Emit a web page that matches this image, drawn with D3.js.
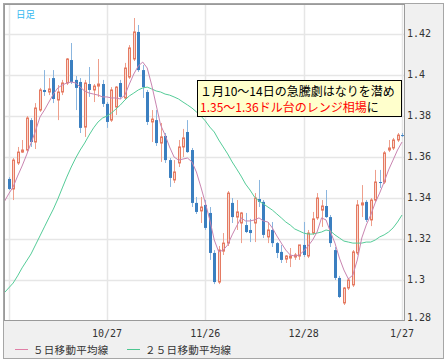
<!DOCTYPE html>
<meta charset="utf-8">
<style>
    * {
        margin: 0px;
    }
    body {
        background: #fff;
    }
    .axis text {
        font-family: "DejaVu Sans Mono", monospace;
        font-size: 10px;
        fill: #333;
    }
    .jp {
        font-family: "Noto Sans CJK JP", sans-serif;
    }
</style>
<svg width="447" height="363"></svg>
<script src="https://d3js.org/d3.v7.min.js"></script>
<script>
    // 日足 (9/24 は移動平均のみ)
    var dates = ["9/24",
        "9/27","9/28","9/29","9/30","10/1",
        "10/4","10/5","10/6","10/7","10/8",
        "10/11","10/12","10/13","10/14","10/15",
        "10/18","10/19","10/20","10/21","10/22",
        "10/25","10/26","10/27","10/28","10/29",
        "11/1","11/2","11/3","11/4","11/5",
        "11/8","11/9","11/10","11/11","11/12",
        "11/15","11/16","11/17","11/18","11/19",
        "11/22","11/23","11/24","11/25","11/26",
        "11/29","11/30","12/1","12/2","12/3",
        "12/6","12/7","12/8","12/9","12/10",
        "12/13","12/14","12/15","12/16","12/17",
        "12/20","12/21","12/22","12/23","12/24",
        "12/27","12/28","12/29","12/30","12/31",
        "1/3","1/4","1/5","1/6","1/7",
        "1/10","1/11","1/12","1/13","1/14",
        "1/17","1/18","1/19","1/20","1/21",
        "1/24","1/25","1/26","1/27"];

    var open = [null,
        1.3493,1.3444,1.3571,1.3624,1.3634, 1.3780,1.3673,1.3829,1.3927,1.3917,
        1.3985,1.3878,1.3917,1.3961,1.4073, 1.3976,1.3966,1.3746,1.3956,1.3927,
        1.3946,1.3956,1.3859,1.3780,1.3844, 1.3961,1.3888,1.3990,1.4078,1.4210,
        1.4024,1.3917,1.3771,1.3780,1.3668, 1.3703,1.3585,1.3488,1.3571,1.3649,
        1.3722,1.3634,1.3376,1.3337,1.3366, 1.3327,1.3132,1.2990,1.3141,1.3180,
        1.3376,1.3307,1.3278,1.3268,1.3244, 1.3278,1.3395,1.3381,1.3210,1.3244,
        1.3180,1.3137,1.3102,1.3107,1.3112, 1.3117,1.3171,1.3117,1.3229,1.3303,
        1.3341,1.3361,1.3307,1.3146,1.3010, 1.2888,1.2961,1.2976,1.3132,1.3366,
        1.3381,1.3293,1.3390,1.3478,1.3478, 1.3634,1.3644,1.3683,1.3707];
    var high = [null,
        1.3502,1.3595,1.3649,1.3683,1.3800, 1.3790,1.3863,1.3937,1.4024,1.3985,
        1.4024,1.3951,1.3976,1.4083,1.4156, 1.3995,1.3985,1.3976,1.4039,1.3956,
        1.4078,1.3976,1.3868,1.3941,1.3946, 1.3976,1.4059,1.4146,1.4278,1.4244,
        1.4049,1.3927,1.3829,1.3829,1.3766, 1.3717,1.3595,1.3585,1.3683,1.3737,
        1.3780,1.3644,1.3405,1.3405,1.3390, 1.3356,1.3146,1.3166,1.3229,1.3434,
        1.3400,1.3390,1.3332,1.3327,1.3298, 1.3424,1.3488,1.3390,1.3283,1.3283,
        1.3185,1.3171,1.3122,1.3156,1.3132, 1.3171,1.3283,1.3244,1.3332,1.3424,
        1.3390,1.3439,1.3317,1.3161,1.3020, 1.2966,1.3010,1.3146,1.3390,1.3463,
        1.3390,1.3400,1.3537,1.3537,1.3629, 1.3683,1.3693,1.3717,1.3717];
    var low = [null,
        1.3439,1.3390,1.3561,1.3620,1.3624, 1.3649,1.3639,1.3820,1.3898,1.3902,
        1.3863,1.3780,1.3902,1.3951,1.3956, 1.3829,1.3717,1.3698,1.3893,1.3868,
        1.3893,1.3844,1.3742,1.3771,1.3805, 1.3883,1.3878,1.3981,1.4068,1.4015,
        1.3888,1.3756,1.3673,1.3654,1.3576, 1.3571,1.3454,1.3473,1.3551,1.3600,
        1.3620,1.3356,1.3322,1.3278,1.3244, 1.3098,1.2980,1.2980,1.3122,1.3166,
        1.3278,1.3244,1.3180,1.3229,1.3185, 1.3185,1.3356,1.3205,1.3180,1.3161,
        1.3107,1.3083,1.3083,1.3063,1.3098, 1.3098,1.3112,1.3107,1.3220,1.3293,
        1.3259,1.3303,1.3161,1.3000,1.2912, 1.2878,1.2951,1.2966,1.3122,1.3307,
        1.3283,1.3263,1.3381,1.3449,1.3468, 1.3624,1.3634,1.3673,1.3698];
    var close = [null,
        1.3444,1.3585,1.3624,1.3634,1.3790, 1.3673,1.3839,1.3927,1.3917,1.3932,
        1.3883,1.3917,1.3961,1.4078,1.3966, 1.3937,1.3742,1.3961,1.3927,1.3946,
        1.3956,1.3859,1.3771,1.3927,1.3941, 1.3893,1.4034,1.4132,1.4210,1.4024,
        1.3941,1.3771,1.3785,1.3668,1.3698, 1.3585,1.3498,1.3527,1.3649,1.3693,
        1.3624,1.3376,1.3332,1.3356,1.3254, 1.3132,1.2990,1.3146,1.3180,1.3424,
        1.3307,1.3332,1.3327,1.3234,1.3229, 1.3400,1.3381,1.3220,1.3244,1.3180,
        1.3132,1.3098,1.3117,1.3117,1.3122, 1.3171,1.3122,1.3229,1.3298,1.3400,
        1.3361,1.3307,1.3180,1.3010,1.2917, 1.2961,1.3000,1.3137,1.3366,1.3376,
        1.3293,1.3390,1.3478,1.3473,1.3620, 1.3644,1.3683,1.3707,1.3703];

    var ma5 = [
        1.3381,1.3420,1.3454,1.3507,1.3556,1.3610,1.3668,1.3727,1.3795,1.3829,
        1.3868,1.3907,1.3937,1.3951,1.3961,1.3966,1.3961,1.3941,1.3922,1.3912,
        1.3907,1.3902,1.3893,1.3893,1.3888,1.3888,1.3883,1.3902,1.3956,1.4005,
        1.4044,1.4063,1.4034,1.3951,1.3854,1.3756,1.3707,1.3649,1.3600,1.3585,
        1.3590,1.3595,1.3576,1.3527,1.3454,1.3376,1.3293,1.3195,1.3137,1.3146,
        1.3171,1.3220,1.3263,1.3303,1.3288,1.3288,1.3293,1.3303,1.3288,1.3283,
        1.3254,1.3215,1.3180,1.3146,1.3122,1.3117,1.3122,1.3141,1.3166,1.3195,
        1.3234,1.3303,1.3293,1.3234,1.3180,1.3107,1.3049,1.3005,1.3024,1.3098,
        1.3205,1.3268,1.3317,1.3376,1.3424,1.3478,1.3537,1.3585,1.3634,1.3673];
    var ma25 = [
        1.2937,1.2961,1.2985,1.3020,1.3059,1.3093,1.3127,1.3171,1.3215,1.3259,
        1.3303,1.3346,1.3395,1.3449,1.3502,1.3551,1.3595,1.3634,1.3668,1.3707,
        1.3742,1.3771,1.3790,1.3800,1.3815,1.3834,1.3854,1.3878,1.3898,1.3912,
        1.3927,1.3937,1.3941,1.3932,1.3922,1.3917,1.3907,1.3902,1.3893,1.3883,
        1.3868,1.3854,1.3839,1.3820,1.3800,1.3776,1.3746,1.3722,1.3683,1.3649,
        1.3615,1.3576,1.3542,1.3507,1.3468,1.3439,1.3405,1.3385,1.3371,1.3356,
        1.3341,1.3322,1.3303,1.3283,1.3268,1.3249,1.3239,1.3229,1.3224,1.3224,
        1.3229,1.3234,1.3244,1.3239,1.3220,1.3205,1.3190,1.3185,1.3180,1.3180,
        1.3180,1.3185,1.3185,1.3195,1.3210,1.3220,1.3234,1.3254,1.3283,1.3317];

    var yTicks = [1.28, 1.30, 1.32, 1.34, 1.36, 1.38, 1.40, 1.42];
    var gridDates = ["9/27", "10/27", "11/26", "12/28", "1/27"];
    var xLabels = ["10/27", "11/26", "12/28", "1/27"];

    var upStroke = "#e57a62", upFill = "#f9d6cb", upWick = "#ee9f8c";
    var downFill = "#3b7fc0", downWick = "#8bb6df";
    var ma5Color = "#c984b0", ma25Color = "#55cc98";

    var svg = d3.select("svg");
    var x = d3.scalePoint().domain(dates).range([4.2, 402]);
    var y = d3.scaleLinear().domain([1.28, 1.42]).range([321, 34]);

    // 外枠と背景
    svg.append("rect").attr("x", 3.5).attr("y", 3.5).attr("width", 440).attr("height", 355)
        .attr("fill", "#f0f0f0").attr("stroke", "#a6a6a6");
    svg.append("rect").attr("x", 4).attr("y", 4).attr("width", 401).attr("height", 317)
        .attr("fill", "#fff");

    svg.append("clipPath").attr("id", "plotclip")
        .append("rect").attr("x", 4).attr("y", 4).attr("width", 401).attr("height", 317);

    var plot = svg.append("g").attr("clip-path", "url(#plotclip)");

    // グリッド
    plot.selectAll(".hgrid").data(yTicks).enter().append("line")
        .attr("x1", 4).attr("x2", 405)
        .attr("y1", function(d) { return Math.round(y(d)) + 0.5; })
        .attr("y2", function(d) { return Math.round(y(d)) + 0.5; })
        .attr("stroke", "#e6e6e6").attr("stroke-width", 1.5);
    plot.selectAll(".vgrid").data(gridDates).enter().append("line")
        .attr("x1", function(d) { return Math.round(x(d)) + 0.5; })
        .attr("x2", function(d) { return Math.round(x(d)) + 0.5; })
        .attr("y1", 4).attr("y2", 321)
        .attr("stroke", "#e6e6e6").attr("stroke-width", 1.5);

    // ローソク足
    var candles = dates.map(function(d, i) {
        return {date: d, o: open[i], h: high[i], l: low[i], c: close[i]};
    }).filter(function(d) { return d.o != null; });

    var cg = plot.append("g").selectAll("g").data(candles).enter().append("g");

    cg.append("line")
        .attr("x1", function(d) { return Math.round(x(d.date)) + 0.5; })
        .attr("x2", function(d) { return Math.round(x(d.date)) + 0.5; })
        .attr("y1", function(d) { return y(d.h); })
        .attr("y2", function(d) { return y(d.l); })
        .attr("stroke", function(d) { return d.c >= d.o ? upWick : downWick; });

    cg.append("rect")
        .attr("x", function(d) {
            var cx = Math.round(x(d.date));
            return d.c >= d.o ? cx - 0.5 : cx - 1;
        })
        .attr("width", function(d) { return d.c >= d.o ? 2 : 3; })
        .attr("y", function(d) { return y(Math.max(d.o, d.c)); })
        .attr("height", function(d) { return Math.max(Math.abs(y(d.o) - y(d.c)), 1); })
        .attr("fill", function(d) { return d.c >= d.o ? upFill : downFill; })
        .attr("stroke", function(d) { return d.c >= d.o ? upStroke : "none"; });

    // 移動平均線
    var line = d3.line()
        .x(function(d, i) { return x(dates[i]); })
        .y(function(d) { return y(d); });

    plot.append("path").datum(ma25).attr("d", line)
        .attr("fill", "none").attr("stroke", ma25Color).attr("stroke-width", 1);
    plot.append("path").datum(ma5).attr("d", line)
        .attr("fill", "none").attr("stroke", ma5Color).attr("stroke-width", 1);

    // 枠線
    svg.append("rect").attr("x", 4.5).attr("y", 4.5).attr("width", 400).attr("height", 316)
        .attr("fill", "none").attr("stroke", "#9a9a9a");

    // 軸ラベル
    var axis = svg.append("g").attr("class", "axis");
    axis.selectAll(".ylab").data(yTicks).enter().append("text")
        .attr("x", 407)
        .attr("y", function(d) { return Math.min(y(d) - 1, 317); })
        .attr("dy", "0.35em")
        .text(function(d) { return String(+d.toFixed(2)); });
    axis.selectAll(".xlab").data(xLabels).enter().append("text")
        .attr("x", function(d) { return x(d); })
        .attr("y", 336.5)
        .attr("text-anchor", "middle")
        .text(function(d) { return d; });

    // 日足
    svg.append("text").attr("class", "jp")
        .attr("x", 16).attr("y", 17.5)
        .attr("font-size", 9.5).attr("fill", "#33b8f0")
        .text("日足");

    // 注釈
    var note = svg.append("g").attr("class", "jp").attr("font-size", 12);
    note.append("rect").attr("x", 197.5).attr("y", 80.5).attr("width", 204).attr("height", 36)
        .attr("fill", "#ffffcc").attr("stroke", "#000");
    note.append("text").attr("x", 200).attr("y", 96).attr("fill", "#000")
        .text("１月10〜14日の急騰劇はなりを潜め");
    var t2 = note.append("text").attr("x", 200).attr("y", 111.5);
    t2.append("tspan").attr("fill", "#ff0000").text("1.35〜1.36ドル台のレンジ相場");
    t2.append("tspan").attr("fill", "#000").text("に");

    // 凡例
    var legend = [
        {name: "５日移動平均線", color: "#e07fa6", x: 15},
        {name: "２５日移動平均線", color: "#4cc690", x: 127}
    ];
    var lg = svg.append("g").attr("class", "jp").attr("font-size", 10.5)
        .selectAll("g").data(legend).enter().append("g");
    lg.append("line")
        .attr("x1", function(d) { return d.x; })
        .attr("x2", function(d) { return d.x + 13; })
        .attr("y1", 349.5).attr("y2", 349.5)
        .attr("stroke", function(d) { return d.color; });
    lg.append("text")
        .attr("x", function(d) { return d.x + 18; })
        .attr("y", 353.5)
        .attr("fill", "#333")
        .attr("letter-spacing", 0.3)
        .text(function(d) { return d.name; });
</script>
